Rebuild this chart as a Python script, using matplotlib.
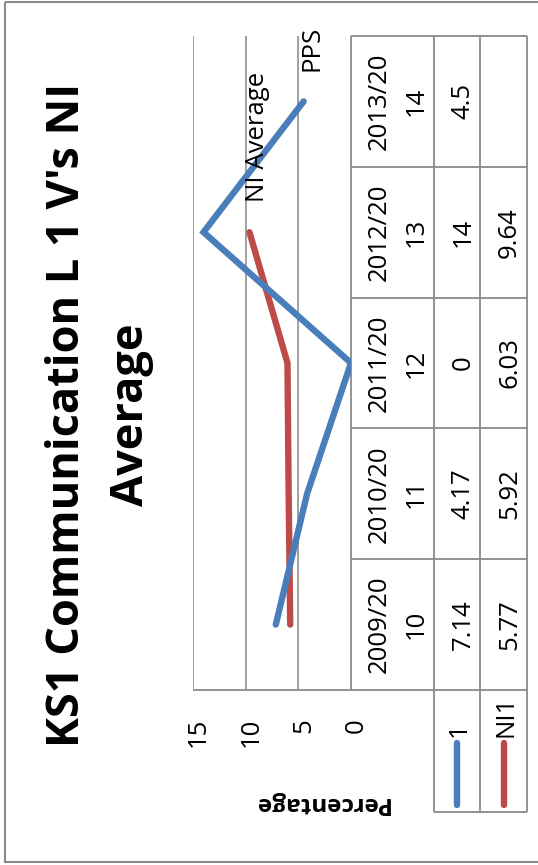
import numpy as np
import matplotlib
matplotlib.use("Agg")
import matplotlib.pyplot as plt
from matplotlib.transforms import blended_transform_factory as blend, ScaledTranslation
from matplotlib.patches import Rectangle

plt.rcParams['font.family'] = ['Open Sans', 'DejaVu Sans']

# ---- data -------------------------------------------------------------
title_lines = ["KS1 Communication L 1 V's NI", "Average"]
axis_title = "Percentage"
periods = [("2009/20", "10"), ("2010/20", "11"), ("2011/20", "12"),
           ("2012/20", "13"), ("2013/20", "14")]
series_names = ["1", "NI1"]
pps_values = [7.14, 4.17, 0, 14, 4.5]
pps_cells = ["7.14", "4.17", "0", "14", "4.5"]
ni_values = [5.77, 5.92, 6.03, 9.64, np.nan]
ni_cells = ["5.77", "5.92", "6.03", "9.64", ""]
value_ticks = [0, 5, 10, 15]
pps_label = ("PPS", 4)          # text, index of the point it sits on
ni_label = ("NI Average", 3)

# ---- styling ----------------------------------------------------------
W, H = 538, 865
BLUE = "#4A7EBB"
RED = "#BE4B48"
GRID = "#868686"
EDGE = "#8a8a8a"
FS = 18.5
LW = 4.6

fig = plt.figure(figsize=(W / 100, H / 100), dpi=100)

# full-figure pixel canvas for frame, table and titles
canvas = fig.add_axes([0, 0, 1, 1])
canvas.set_xlim(0, W)
canvas.set_ylim(H, 0)
canvas.axis("off")

# plot area (chart turned on its side: values run right-to-left)
x0, x1, y0, y1 = 193, 351, 36, 690
ax = fig.add_axes([x0 / W, 1 - y1 / H, (x1 - x0) / W, (y1 - y0) / H])
ax.set_xlim(15, 0)
ax.set_ylim(-0.5, len(periods) - 0.5)
ax.patch.set_alpha(0)
for s in ax.spines.values():
    s.set_visible(False)
ax.set_xticks([])
ax.set_yticks([])

for v in value_ticks[1:]:
    ax.axvline(v, color=GRID, lw=1.1, zorder=1)

idx = np.arange(len(periods))
ax.plot(pps_values, idx, color=BLUE, lw=LW, solid_capstyle="round",
        solid_joinstyle="miter", zorder=3)
ax.plot(ni_values, idx, color=RED, lw=LW, solid_capstyle="round",
        solid_joinstyle="miter", zorder=2)

# point labels
txt_kw = dict(rotation=90, rotation_mode="anchor", fontsize=FS)
for (text, i), vals in ((pps_label, pps_values), (ni_label, ni_values)):
    ax.annotate(text, xy=(vals[i], i), xytext=(15, 30),
                textcoords="offset pixels", ha="left", va="baseline", **txt_kw)

# value tick labels under the plot
tick_tr = blend(ax.transData, canvas.transData) + ScaledTranslation(12 / 100, 0, fig.dpi_scale_trans)
for v in value_ticks:
    canvas.text(v, 718, str(v), transform=tick_tr, ha="right", va="baseline", **txt_kw)

# ---- data table ---------------------------------------------------------
col_edges = [351, 434, 480, 527]
row_tr = blend(canvas.transData, ax.transData)
line_kw = dict(color=EDGE, lw=1.3, solid_capstyle="butt")

for b in np.arange(-0.5, len(periods)):
    canvas.plot([col_edges[0], col_edges[-1]], [b, b], transform=row_tr, **line_kw)
canvas.plot([x0, col_edges[0]], [y1, y1], **line_kw)
for cx in col_edges:
    canvas.plot([cx, cx], [y0, y1], **line_kw)
legend_bottom = 812
for cx in col_edges[1:]:
    canvas.plot([cx, cx], [y1, legend_bottom], **line_kw)
canvas.plot([col_edges[1], col_edges[-1]], [legend_bottom, legend_bottom], **line_kw)

for i, (a, b) in enumerate(periods):
    canvas.text(386, i, a, transform=row_tr, ha="center", va="baseline", **txt_kw)
    canvas.text(423, i, b, transform=row_tr, ha="center", va="baseline", **txt_kw)
    canvas.text(470, i, pps_cells[i], transform=row_tr, ha="center", va="baseline", **txt_kw)
    if ni_cells[i]:
        canvas.text(516, i, ni_cells[i], transform=row_tr, ha="center", va="baseline", **txt_kw)

# legend keys in the table's first column
for name, color, cx in ((series_names[0], BLUE, 457), (series_names[1], RED, 503.5)):
    canvas.plot([cx, cx], [805, 743], color=color, lw=LW, solid_capstyle="round")
    canvas.text(cx + 9, 737, name, ha="left", va="baseline", **txt_kw)

# ---- titles -------------------------------------------------------------
canvas.text(79, 415, title_lines[0], rotation=90, rotation_mode="anchor",
            ha="center", va="baseline", fontsize=32.5, fontweight="bold")
canvas.text(143, 415, title_lines[1], rotation=90, rotation_mode="anchor",
            ha="center", va="baseline", fontsize=32.5, fontweight="bold")
canvas.text(321, 797, axis_title, rotation=180, rotation_mode="anchor",
            ha="center", va="baseline", fontsize=17.5, fontweight="bold")

# outer chart frame
canvas.add_patch(Rectangle((5, 2), 545, 860, fill=False, ec=EDGE, lw=1.5))

fig.savefig("out.png", dpi=100)
